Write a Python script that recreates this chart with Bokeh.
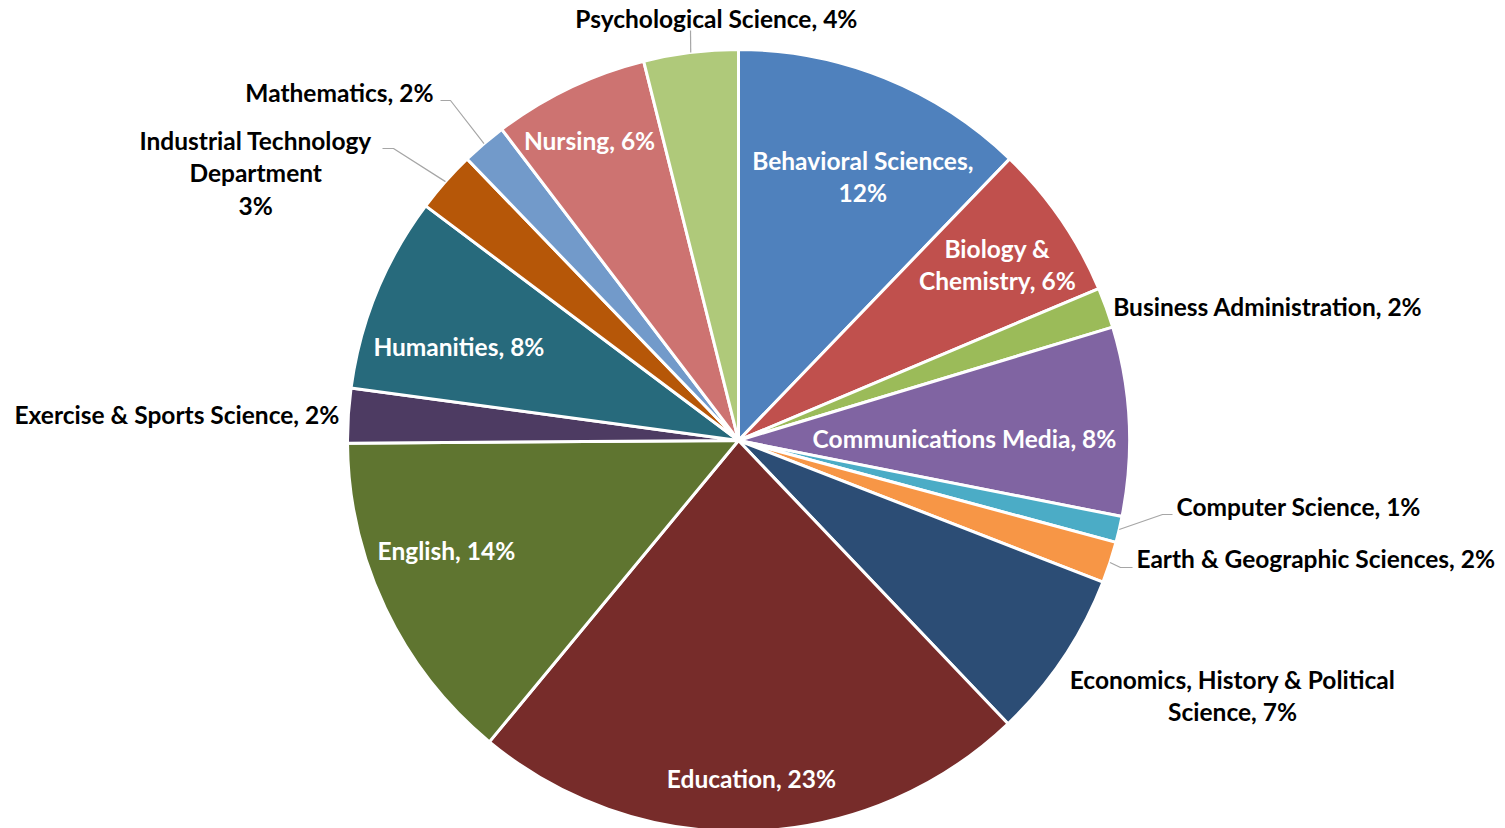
import math
from bokeh.plotting import figure
from bokeh.models import Range1d, ColumnDataSource
from bokeh.core.properties import value
from bokeh.embed import file_html
from bokeh.resources import INLINE

# ---- data ----
categories = ["Behavioral Sciences", "Biology & Chemistry", "Business Administration",
              "Communications Media", "Computer Science", "Earth & Geographic Sciences",
              "Economics, History & Political Science", "Education", "English",
              "Exercise & Sports Science", "Humanities", "Industrial Technology Department",
              "Mathematics", "Nursing", "Psychological Science"]
shares = [12.2, 6.45, 1.67, 7.8, 1.08, 1.7, 7.0, 23.1, 13.9, 2.25, 8.1, 2.55, 1.86, 6.45, 3.9]
label_templates = ["Behavioral Sciences,\n{p}%", "Biology &\nChemistry, {p}%",
                   "Business Administration, {p}%", "Communications Media, {p}%",
                   "Computer Science, {p}%", "Earth & Geographic Sciences, {p}%",
                   "Economics, History & Political\nScience, {p}%", "Education, {p}%",
                   "English, {p}%", "Exercise & Sports Science, {p}%", "Humanities, {p}%",
                   "Industrial Technology\nDepartment\n{p}%", "Mathematics, {p}%",
                   "Nursing, {p}%", "Psychological Science, {p}%"]

# ---- styles / layout ----
colors = ["#4F81BD", "#C0504D", "#9BBB59", "#8064A2", "#4BACC6", "#F79646", "#2C4D75",
          "#772C2A", "#5F7530", "#4D3B62", "#276A7C", "#B65708", "#729ACA", "#CD7371",
          "#AFC97A"]
inside = [True, True, False, True, False, False, False, True, True, False, True, False,
          False, True, False]
# label polar position (radius px, clockwise angle from top in degrees) and alignment
label_r = [292, 313, 398, 226, 443, 415, 556, 338, 312, 400, 295, 552, 463, 335, 423]
label_ang = [25.2, 55.8, 70.3, 89.5, 98.6, 106.5, 117.3, 177.8, 249.4, 273.7, 288.6, 299.0,
             318.8, 333.6, 357.0]
label_align = ["center", "center", "left", "center", "left", "left", "center", "center",
               "center", "right", "center", "center", "right", "center", "center"]
# leader lines: (slice index, list of (dx, dy) offsets from centre, after the edge point)
leaders = [(14, [(-48, 410)]),
           (12, [(-288, 340), (-298, 340)]),
           (11, [(-345, 292), (-356, 292)]),
           (4, [(424, -74), (434, -74)]),
           (5, [(382, -127), (394, -127)])]

W, H = 1505, 828
CX, CY, R = 738, 828 - 440, 391

total = sum(shares)
pcts = [round(v / total * 100) for v in shares]
labels = [t.format(p=p) for t, p in zip(label_templates, pcts)]

starts, ends, mids = [], [], []
acc = 0.0
for v in shares:
    a0 = acc / total * 2 * math.pi
    acc += v
    a1 = acc / total * 2 * math.pi
    starts.append(math.pi / 2 - a0)
    ends.append(math.pi / 2 - a1)
    mids.append((a0 + a1) / 2)

p = figure(width=W, height=H, output_backend="svg", toolbar_location=None,
           x_range=Range1d(0, W), y_range=Range1d(828 - H, 828),
           min_border=0)
p.axis.visible = False
p.grid.visible = False
p.outline_line_color = None
p.background_fill_color = "white"

src = ColumnDataSource(dict(start=starts, end=ends, color=colors, cat=categories))
p.wedge(x=CX, y=CY, radius=R, start_angle="start", end_angle="end", direction="clock",
        fill_color="color", line_color="white", line_width=3, source=src)

# leader lines
for idx, pts in leaders:
    m = mids[idx]
    xs = [CX + R * math.sin(m)] + [CX + dx for dx, dy in pts]
    ys = [CY + R * math.cos(m)] + [CY + dy for dx, dy in pts]
    p.line(xs, ys, line_color="#A6A6A6", line_width=1.2)

# labels
for i, lab in enumerate(labels):
    a = math.radians(label_ang[i])
    x = CX + label_r[i] * math.sin(a)
    y = CY + label_r[i] * math.cos(a)
    p.text(x=[x], y=[y], text=[lab], text_align=label_align[i], text_baseline="middle",
           text_font=value("Lato"), text_font_style="bold", text_font_size="24.5px",
           text_line_height=1.12,
           text_color="white" if inside[i] else "black")

open("out.html", "w").write(file_html(p, INLINE))
